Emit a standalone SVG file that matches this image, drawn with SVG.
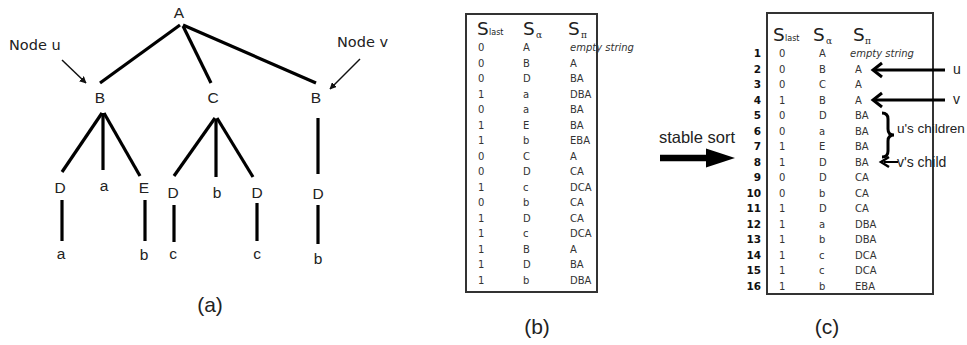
<svg xmlns="http://www.w3.org/2000/svg" width="967" height="345" viewBox="0 0 967 345">
  <style>
    .lbl { font-family: "Liberation Sans", Arial, sans-serif; font-size: 15.5px; fill: #222; text-anchor: middle; }
    .tag { font-family: "DejaVu Sans", Tahoma, sans-serif; font-size: 14.5px; fill: #222; }
    .cap { font-family: "Liberation Sans", Arial, sans-serif; font-size: 21px; fill: #222; text-anchor: middle; }
    .edge { stroke: #000; stroke-width: 3.2; fill: none; }
    .thin { stroke: #111; stroke-width: 1.5; fill: none; }
    .box { fill: #fff; stroke: #333; stroke-width: 2; }
    .hdr { font-family: "DejaVu Sans", Tahoma, sans-serif; font-size: 18.5px; fill: #222; }
    .sub { font-family: "DejaVu Sans", Tahoma, sans-serif; font-size: 8px; fill: #222; }
    .greek { font-family: "DejaVu Serif", "Liberation Serif", serif; font-size: 9px; fill: #222; }
    .cell { font-family: "DejaVu Sans", Tahoma, sans-serif; font-size: 10px; fill: #333; }
    .it { font-style: italic; }
    .num { font-family: "DejaVu Sans", Tahoma, sans-serif; font-size: 10.5px; font-weight: bold; fill: #111; text-anchor: end; }
    .note { font-family: "Liberation Sans", Arial, sans-serif; font-size: 13.5px; fill: #222; }
    .big { font-size: 14px; }
    .sort { font-size: 16.5px; text-anchor: middle; }
    .pointer { stroke: #000; stroke-width: 3; fill: none; }
  </style>
  <defs>
    <marker id="tip" viewBox="0 0 10 10" refX="9" refY="5" markerWidth="7" markerHeight="7" markerUnits="userSpaceOnUse" orient="auto">
      <path d="M0,0 L10,5 L0,10 z" fill="#111"/>
    </marker>
  </defs>

  <!-- (a) tree -->
  <g id="tree-edges">
    <line class="edge" x1="180" y1="25" x2="100" y2="83"/>
    <line class="edge" x1="183" y1="26" x2="211" y2="83"/>
    <line class="edge" x1="183" y1="25" x2="316" y2="83"/>
    <line class="edge" x1="102" y1="113" x2="62" y2="172"/>
    <line class="edge" x1="103" y1="113" x2="103" y2="170"/>
    <line class="edge" x1="104" y1="113" x2="140" y2="176"/>
    <line class="edge" x1="62" y1="200" x2="62" y2="241"/>
    <line class="edge" x1="145" y1="200" x2="145" y2="241"/>
    <line class="edge" x1="215" y1="118" x2="174" y2="176"/>
    <line class="edge" x1="216" y1="119" x2="216" y2="177"/>
    <line class="edge" x1="217" y1="118" x2="253" y2="177"/>
    <line class="edge" x1="174" y1="205" x2="174" y2="242"/>
    <line class="edge" x1="257" y1="203" x2="257" y2="241"/>
    <line class="edge" x1="318" y1="118" x2="318" y2="174"/>
    <line class="edge" x1="318" y1="205" x2="318" y2="244"/>
    <line class="thin" x1="62" y1="60" x2="86" y2="83" marker-end="url(#tip)"/>
    <line class="thin" x1="360" y1="59" x2="330" y2="89" marker-end="url(#tip)"/>
  </g>
  <g id="node-A"><text class="lbl" x="179" y="17.5">A</text></g>
  <g id="node-u"><text class="lbl" x="100" y="102.5">B</text></g>
  <g id="node-C"><text class="lbl" x="213" y="102.5">C</text></g>
  <g id="node-v"><text class="lbl" x="316" y="102.5">B</text></g>
  <g id="node-uD"><text class="lbl" x="60" y="192.5">D</text></g>
  <g id="node-ua"><text class="lbl" x="104" y="191">a</text></g>
  <g id="node-uE"><text class="lbl" x="144" y="192.5">E</text></g>
  <g id="node-uDa"><text class="lbl" x="61" y="259">a</text></g>
  <g id="node-uEb"><text class="lbl" x="144" y="259.5">b</text></g>
  <g id="node-CD1"><text class="lbl" x="173" y="197.5">D</text></g>
  <g id="node-Cb"><text class="lbl" x="217" y="197.5">b</text></g>
  <g id="node-CD2"><text class="lbl" x="257" y="197.5">D</text></g>
  <g id="node-CD1c"><text class="lbl" x="173" y="259">c</text></g>
  <g id="node-CD2c"><text class="lbl" x="257" y="259">c</text></g>
  <g id="node-vD"><text class="lbl" x="318" y="198.5">D</text></g>
  <g id="node-vDb"><text class="lbl" x="318" y="263.5">b</text></g>
  <g id="tag-u"><text class="tag" x="9" y="50">Node u</text></g>
  <g id="tag-v"><text class="tag" x="337" y="47">Node v</text></g>
  <text class="cap" x="210" y="312">(a)</text>

  <!-- (b) unsorted table -->
  <g id="table-b">
    <rect class="box" x="466" y="14" width="131" height="278"/>
    <text class="hdr" x="477" y="35">S</text><text class="sub" x="489" y="35">last</text>
    <text class="hdr" x="523" y="35">S</text><text class="greek" x="536" y="38">α</text>
    <text class="hdr" x="568" y="35">S</text><text class="greek" x="581" y="38">π</text>
    <g class="cell">
      <text x="478" y="51">0</text><text x="523" y="51">A</text><text x="570" y="51" class="it">empty string</text>
      <text x="478" y="66.5">0</text><text x="523" y="66.5">B</text><text x="570" y="66.5">A</text>
      <text x="478" y="82">0</text><text x="523" y="82">D</text><text x="570" y="82">BA</text>
      <text x="478" y="97.5">1</text><text x="523" y="97.5">a</text><text x="570" y="97.5">DBA</text>
      <text x="478" y="113">0</text><text x="523" y="113">a</text><text x="570" y="113">BA</text>
      <text x="478" y="128.5">1</text><text x="523" y="128.5">E</text><text x="570" y="128.5">BA</text>
      <text x="478" y="144">1</text><text x="523" y="144">b</text><text x="570" y="144">EBA</text>
      <text x="478" y="159.5">0</text><text x="523" y="159.5">C</text><text x="570" y="159.5">A</text>
      <text x="478" y="175">0</text><text x="523" y="175">D</text><text x="570" y="175">CA</text>
      <text x="478" y="190.5">1</text><text x="523" y="190.5">c</text><text x="570" y="190.5">DCA</text>
      <text x="478" y="206">0</text><text x="523" y="206">b</text><text x="570" y="206">CA</text>
      <text x="478" y="221.5">1</text><text x="523" y="221.5">D</text><text x="570" y="221.5">CA</text>
      <text x="478" y="237">1</text><text x="523" y="237">c</text><text x="570" y="237">DCA</text>
      <text x="478" y="252.5">1</text><text x="523" y="252.5">B</text><text x="570" y="252.5">A</text>
      <text x="478" y="268">1</text><text x="523" y="268">D</text><text x="570" y="268">BA</text>
      <text x="478" y="283.5">1</text><text x="523" y="283.5">b</text><text x="570" y="283.5">DBA</text>
    </g>
  </g>
  <text class="cap" x="537" y="334">(b)</text>

  <!-- stable sort arrow -->
  <g id="sort-arrow">
    <text class="note sort" x="697" y="143">stable sort</text>
    <line x1="660" y1="158" x2="710" y2="158" stroke="#000" stroke-width="6.5"/>
    <path d="M706,148.5 L735,158 L706,167.5 z" fill="#000"/>
  </g>

  <!-- (c) sorted table -->
  <g id="table-c">
    <rect class="box" x="767" y="13" width="166" height="281"/>
    <text class="hdr" x="773" y="41">S</text><text class="sub" x="785" y="41">last</text>
    <text class="hdr" x="813" y="41">S</text><text class="greek" x="826" y="44">α</text>
    <text class="hdr" x="853" y="41">S</text><text class="greek" x="865" y="44">π</text>
    <g class="num">
      <text x="761" y="57">1</text><text x="761" y="72.5">2</text><text x="761" y="88">3</text><text x="761" y="103.5">4</text>
      <text x="761" y="119">5</text><text x="761" y="134.5">6</text><text x="761" y="150">7</text><text x="761" y="165.5">8</text>
      <text x="761" y="181">9</text><text x="761" y="196.5">10</text><text x="761" y="212">11</text><text x="761" y="227.5">12</text>
      <text x="761" y="243">13</text><text x="761" y="258.5">14</text><text x="761" y="274">15</text><text x="761" y="289.5">16</text>
    </g>
    <g class="cell">
      <text x="779" y="57">0</text><text x="819" y="57">A</text><text x="850" y="57" class="it">empty string</text>
      <text x="779" y="72.5">0</text><text x="819" y="72.5">B</text><text x="855" y="72.5">A</text>
      <text x="779" y="88">0</text><text x="819" y="88">C</text><text x="855" y="88">A</text>
      <text x="779" y="103.5">1</text><text x="819" y="103.5">B</text><text x="855" y="103.5">A</text>
      <text x="779" y="119">0</text><text x="819" y="119">D</text><text x="855" y="119">BA</text>
      <text x="779" y="134.5">0</text><text x="819" y="134.5">a</text><text x="855" y="134.5">BA</text>
      <text x="779" y="150">1</text><text x="819" y="150">E</text><text x="855" y="150">BA</text>
      <text x="779" y="165.5">1</text><text x="819" y="165.5">D</text><text x="855" y="165.5">BA</text>
      <text x="779" y="181">0</text><text x="819" y="181">D</text><text x="855" y="181">CA</text>
      <text x="779" y="196.5">0</text><text x="819" y="196.5">b</text><text x="855" y="196.5">CA</text>
      <text x="779" y="212">1</text><text x="819" y="212">D</text><text x="855" y="212">CA</text>
      <text x="779" y="227.5">1</text><text x="819" y="227.5">a</text><text x="855" y="227.5">DBA</text>
      <text x="779" y="243">1</text><text x="819" y="243">b</text><text x="855" y="243">DBA</text>
      <text x="779" y="258.5">1</text><text x="819" y="258.5">c</text><text x="855" y="258.5">DCA</text>
      <text x="779" y="274">1</text><text x="819" y="274">c</text><text x="855" y="274">DCA</text>
      <text x="779" y="289.5">1</text><text x="819" y="289.5">b</text><text x="855" y="289.5">EBA</text>
    </g>
  </g>

  <!-- pointers into the sorted table -->
  <g id="pointers">
    <line class="pointer" x1="945" y1="70" x2="874" y2="70"/>
    <path class="pointer" d="M882,63 L873,70 L882,77"/>
    <line class="pointer" x1="945" y1="100" x2="874" y2="100"/>
    <path class="pointer" d="M882,93 L873,100 L882,107"/>
    <path class="pointer" d="M882,113 Q888,113 888,119 L888,129 Q888,135 894,135 Q888,135 888,141 L888,151 Q888,157 882,157"/>
    <line x1="898" y1="162" x2="884" y2="162" stroke="#000" stroke-width="2"/>
    <path d="M889,157 L881,162 L889,167" stroke="#000" stroke-width="2.5" fill="none"/>
  </g>
  <text class="note big" x="953" y="74">u</text>
  <text class="note big" x="953" y="104">v</text>
  <text class="note" x="897" y="133">u's children</text>
  <text class="note big" x="897" y="167">v's child</text>
  <text class="cap" x="827" y="334">(c)</text>
</svg>
